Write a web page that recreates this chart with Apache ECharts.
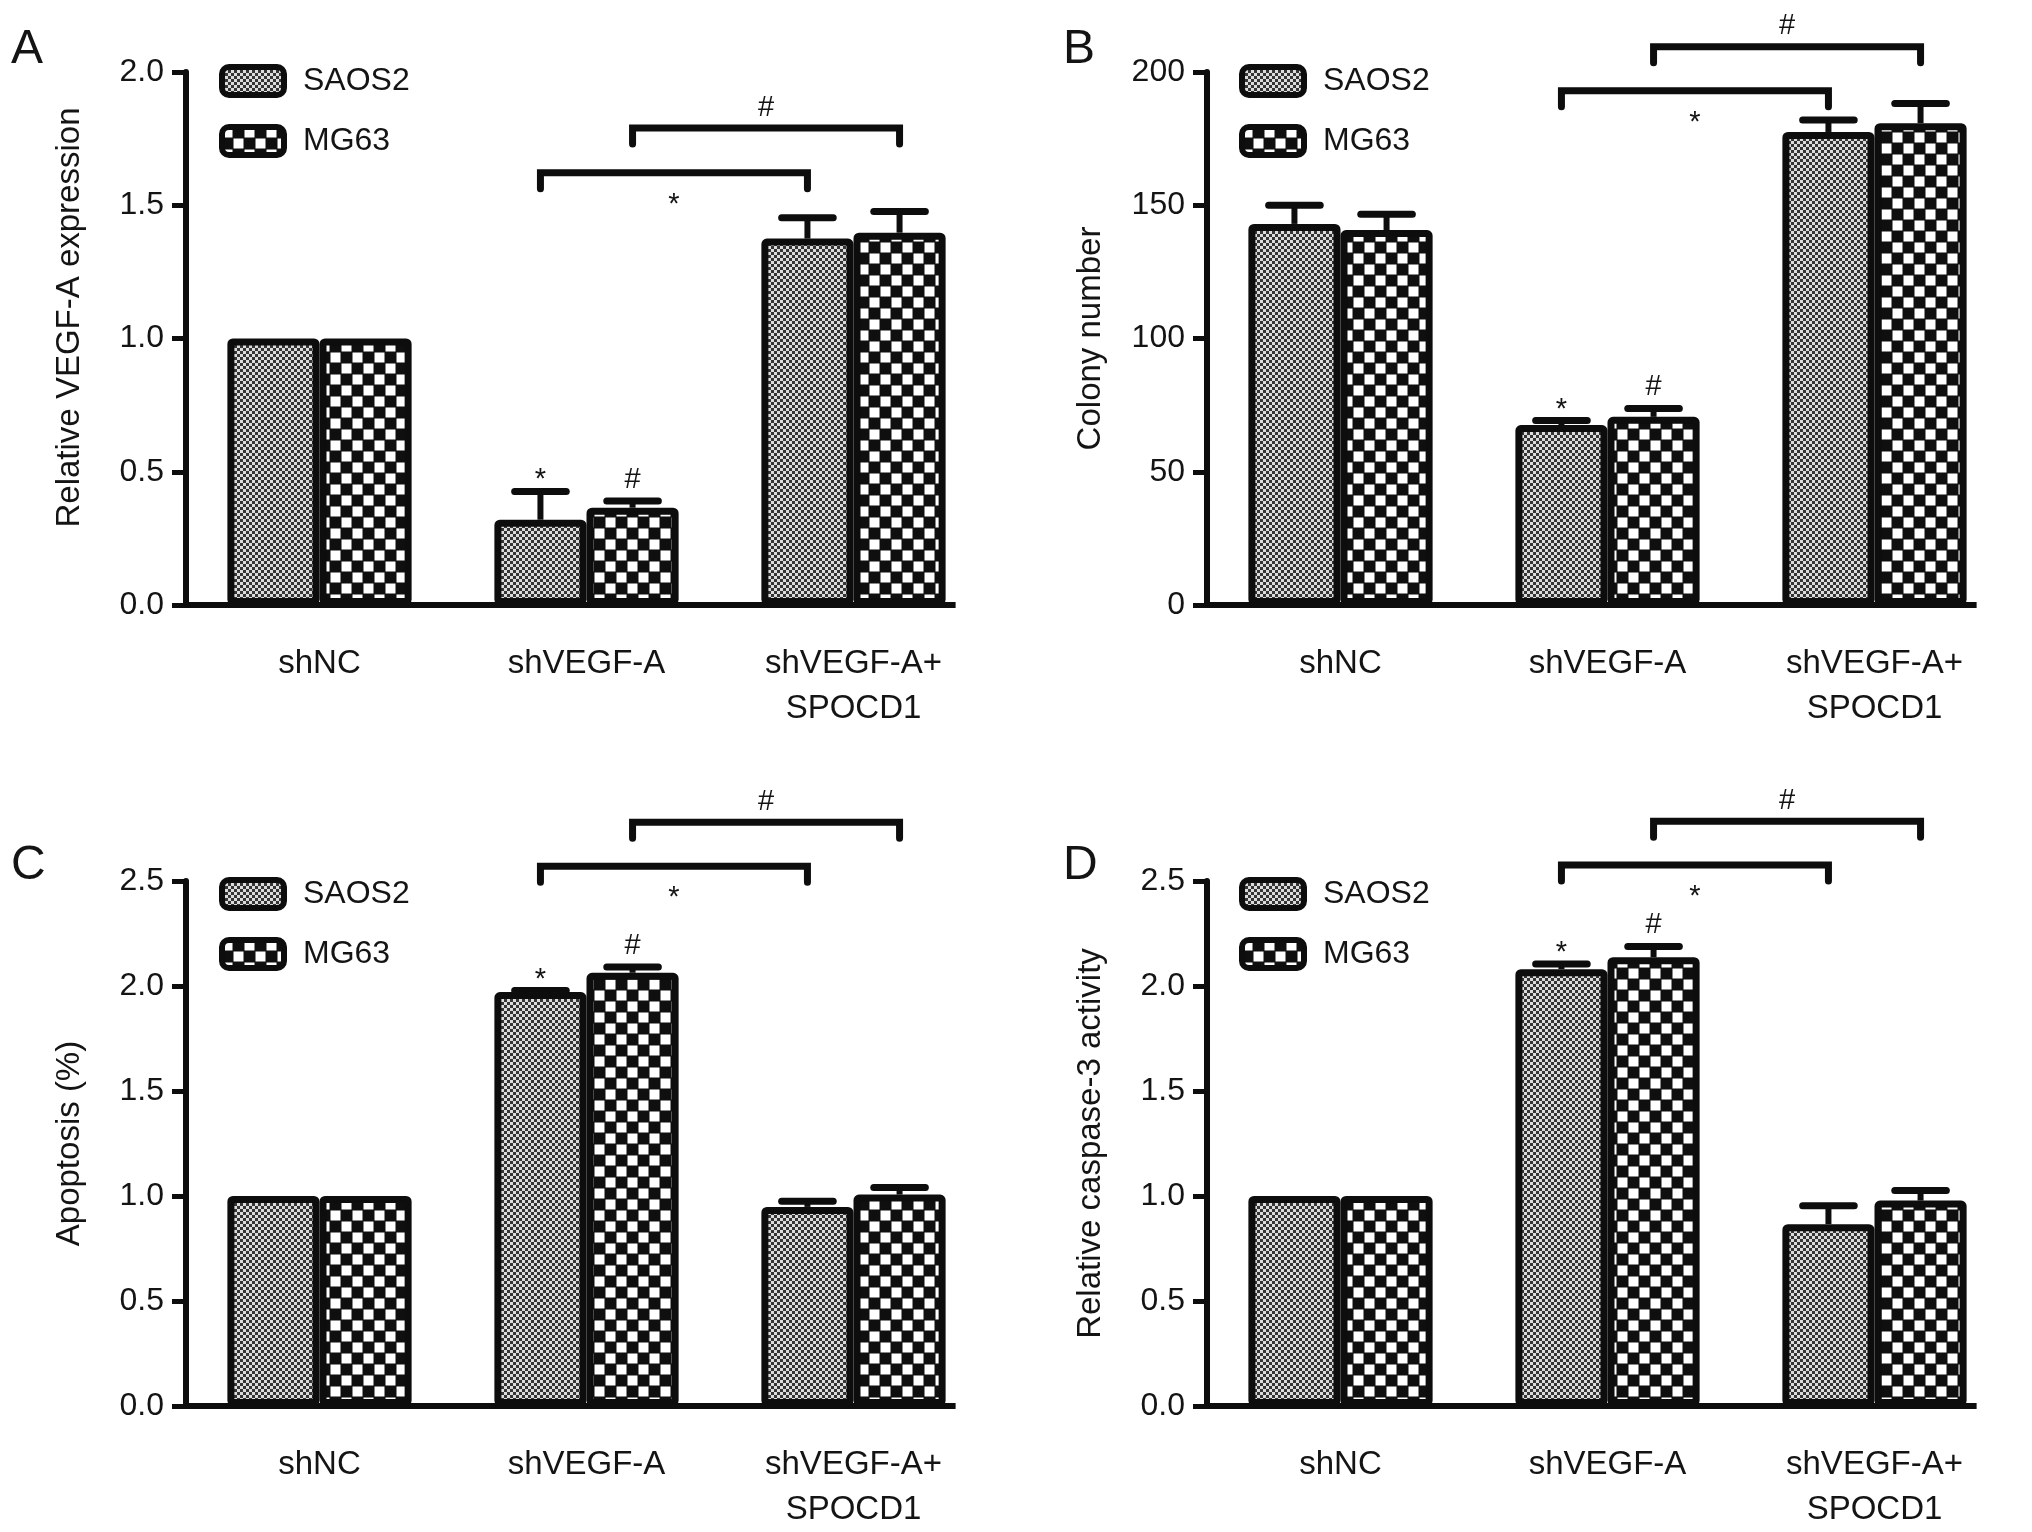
<!DOCTYPE html>
<html>
<head>
<meta charset="utf-8">
<script src="https://cdn.jsdelivr.net/npm/echarts@6/dist/echarts.min.js"></script>
<style>
html,body{margin:0;padding:0;background:#fff;}
#chart{width:2032px;height:1532px;}
</style>
</head>
<body>
<div id="chart"></div>
<script>
// ---------------- DATA ----------------
const categories = ['shNC', 'shVEGF-A', 'shVEGF-A+\nSPOCD1'];
const seriesNames = ['SAOS2', 'MG63'];
const panelLetters = ['A', 'B', 'C', 'D'];
const yAxisNames = ['Relative VEGF-A expression', 'Colony number', 'Apoptosis (%)', 'Relative caspase-3 activity'];
const yMax = [2.0, 200, 2.5, 2.5];
const yInterval = [0.5, 50, 0.5, 0.5];
const yDecimals = [1, 0, 1, 1];

// Panel A
const aSAOS2 = [1.0, 0.32, 1.375];
const aSAOS2Err = [null, 0.426, 1.453];
const aMG63 = [1.0, 0.365, 1.397];
const aMG63Err = [null, 0.39, 1.477];
const aBracketY = [1.622, 1.79];
// Panel B
const bSAOS2 = [143, 67.5, 177.5];
const bSAOS2Err = [150, 69.2, 182];
const bMG63 = [140.7, 70.6, 180.8];
const bMG63Err = [146.6, 73.7, 188.2];
const bBracketY = [193, 209.5];
// Panel C
const cSAOS2 = [1.0, 1.971, 0.948];
const cSAOS2Err = [null, 1.978, 0.975];
const cMG63 = [1.0, 2.063, 1.007];
const cMG63Err = [null, 2.09, 1.04];
const cBracketY = [2.57, 2.78];
// Panel D
const dSAOS2 = [1.0, 2.08, 0.866];
const dSAOS2Err = [null, 2.105, 0.954];
const dMG63 = [1.0, 2.137, 0.978];
const dMG63Err = [null, 2.188, 1.026];
const dBracketY = [2.576, 2.784];

// significance marks over single bars: category index, series index, text
const markCats = [1, 1];
const markSeries = [0, 1];
const markTexts = ['*', '#'];
// comparison brackets: from [cat, series] to [cat, series]
const bracketFrom = [[1, 0], [1, 1]];
const bracketTo = [[2, 0], [2, 1]];
const bracketTexts = ['*', '#'];
const bracketLabelSide = ['below', 'above'];

const panelData = [
  {s: aSAOS2, se: aSAOS2Err, m: aMG63, me: aMG63Err, br: aBracketY},
  {s: bSAOS2, se: bSAOS2Err, m: bMG63, me: bMG63Err, br: bBracketY},
  {s: cSAOS2, se: cSAOS2Err, m: cMG63, me: cMG63Err, br: cBracketY},
  {s: dSAOS2, se: dSAOS2Err, m: dMG63, me: dMG63Err, br: dBracketY}
];

// ---------------- LAYOUT / STYLE ----------------
const FONT = '"Liberation Sans", Arial, Helvetica, sans-serif';
const INK = '#0d0d0d';
const TXT = '#141414';
const layout = [
  {left: 186, top: 72, width: 801, height: 533, legendLeft: 214, legendTop: 59, letterLeft: 11, letterTop: 26, namePad: [0, 0, 0, 42]},
  {left: 1207, top: 72, width: 801, height: 533, legendLeft: 1234, legendTop: 59, letterLeft: 1063, letterTop: 26, namePad: [0, 0, 0, 0]},
  {left: 186, top: 881, width: 801, height: 534, legendLeft: 214, legendTop: 872, letterLeft: 11, letterTop: 842, namePad: [0, 0, 0, 0]},
  {left: 1207, top: 881, width: 801, height: 534, legendLeft: 1234, legendTop: 872, letterLeft: 1063, letterTop: 842, namePad: [0, 0, 0, 0]}
];
const BAR_FRAC = 0.345;

function makeChecker(cell, dark, light, lightSize) {
  const c = document.createElement('canvas');
  c.width = c.height = cell * 2;
  const g = c.getContext('2d');
  g.fillStyle = dark; g.fillRect(0, 0, cell * 2, cell * 2);
  g.fillStyle = light;
  const o = (cell - lightSize) / 2;
  g.fillRect(o, o, lightSize, lightSize);
  g.fillRect(cell + o, cell + o, lightSize, lightSize);
  return c;
}
const patSAOS2 = {image: makeChecker(3, '#353535', '#dcdcdc', 3), repeat: 'repeat'};
const patMG63 = {image: makeChecker(11, '#0f0f0f', '#ffffff', 10), repeat: 'repeat'};
const patterns = [patSAOS2, patMG63];

function barCenter(api, cat, ser) {
  const cw = api.size([1, 0])[0];
  const x = api.coord([cat, 0])[0];
  return x + (ser === 0 ? -1 : 1) * BAR_FRAC / 2 * cw;
}
function glyphOffset(t, fs) { return t === '*' ? 0.24 * fs : 0.02 * fs; }

const option = {
  animation: false,
  backgroundColor: '#fff',
  title: layout.map((L, i) => ({
    text: panelLetters[i], left: L.letterLeft, top: L.letterTop, padding: 0,
    textStyle: {fontSize: 48, fontWeight: 'normal', color: TXT, fontFamily: FONT}
  })),
  legend: layout.map((L) => ({
    left: L.legendLeft, top: L.legendTop, orient: 'vertical',
    itemWidth: 62, itemHeight: 28, itemGap: 26, icon: 'roundRect',
    selectedMode: false, data: seriesNames,
    itemStyle: {borderWidth: 6, borderColor: INK},
    textStyle: {fontSize: 32, color: TXT, fontFamily: FONT, padding: [0, 0, 0, 14], lineHeight: 32}
  })),
  grid: layout.map(L => ({left: L.left, top: L.top, width: L.width, height: L.height, containLabel: false})),
  xAxis: layout.map((L, i) => ({
    type: 'category', gridIndex: i, data: categories, boundaryGap: true,
    axisLine: {show: false},
    axisTick: {alignWithLabel: true, length: 19, lineStyle: {color: INK, width: 5}},
    axisLabel: {fontSize: 33, color: TXT, fontFamily: FONT, margin: 36, lineHeight: 45, interval: 0}
  })),
  yAxis: layout.map((L, i) => ({
    type: 'value', gridIndex: i, min: 0, max: yMax[i], interval: yInterval[i],
    name: yAxisNames[i], nameLocation: 'middle', nameRotate: 90, nameGap: 100,
    nameTextStyle: {fontSize: 33, color: TXT, fontFamily: FONT, padding: L.namePad},
    axisLine: {show: true, lineStyle: {color: INK, width: 6}},
    axisTick: {show: true, length: 14, lineStyle: {color: INK, width: 5}},
    axisLabel: {fontSize: 32, color: TXT, fontFamily: FONT, margin: 22,
      formatter: v => v.toFixed(yDecimals[i])},
    splitLine: {show: false}
  })),
  series: []
};

panelData.forEach((P, i) => {
  const vals = [P.s, P.m];
  const errs = [P.se, P.me];
  // x axis baseline: from the y axis to just past the last bar (drawn through the axis scales)
  option.series.push({
    type: 'custom', xAxisIndex: i, yAxisIndex: i, z: 5, silent: true, clip: false,
    data: [[0, 0]],
    renderItem: (params, api) => {
      const cw = api.size([1, 0])[0];
      const last = categories.length - 1;
      const y = api.coord([0, 0])[1];
      const xs = api.coord([0, 0])[0] - cw / 2 - 3;
      const xe = api.coord([last, 0])[0] + BAR_FRAC * cw + 10;
      return {type: 'line', shape: {x1: xs, y1: y, x2: xe, y2: y}, style: {stroke: INK, lineWidth: 6}};
    }
  });
  vals.forEach((arr, si) => {
    option.series.push({
      type: 'bar', name: seriesNames[si], xAxisIndex: i, yAxisIndex: i,
      data: arr, barWidth: (BAR_FRAC * 100) + '%', barGap: '0%', z: 2,
      itemStyle: {color: patterns[si], borderColor: INK, borderWidth: 7, borderRadius: 2}
    });
  });
  // error bars
  const errRows = [];
  errs.forEach((earr, si) => earr.forEach((e, ci) => { if (e != null) errRows.push([ci, vals[si][ci], e, si]); }));
  option.series.push({
    type: 'custom', xAxisIndex: i, yAxisIndex: i, z: 3, silent: true, clip: false,
    data: errRows,
    renderItem: (params, api) => {
      const cat = api.value(0), v = api.value(1), e = api.value(2), si = api.value(3);
      const x = barCenter(api, cat, si);
      const yb = api.coord([cat, v])[1], yt = api.coord([cat, e])[1];
      const half = 0.28 * BAR_FRAC * api.size([1, 0])[0];
      return {type: 'group', children: [
        {type: 'line', shape: {x1: x, y1: yb, x2: x, y2: yt}, style: {stroke: INK, lineWidth: 6}},
        {type: 'line', shape: {x1: x - half, y1: yt, x2: x + half, y2: yt}, style: {stroke: INK, lineWidth: 7, lineCap: 'round'}}
      ]};
    }
  });
  // single-bar significance marks
  const markRows = markCats.map((c, k) => {
    const si = markSeries[k];
    const e = errs[si][c];
    return [c, si, e != null ? e : vals[si][c]];
  });
  option.series.push({
    type: 'custom', xAxisIndex: i, yAxisIndex: i, z: 4, silent: true, clip: false,
    data: markRows,
    renderItem: (params, api) => {
      const c = api.value(0), si = api.value(1), y = api.value(2);
      const t = markTexts[params.dataIndex];
      const fs = 29;
      const x = barCenter(api, c, si);
      const yc = api.coord([c, y])[1] - (t === '*' ? 18 : 22);
      return {type: 'text', style: {x: x, y: yc + glyphOffset(t, fs), text: t, fill: TXT,
        font: fs + 'px ' + FONT, textAlign: 'center', textVerticalAlign: 'middle'}};
    }
  });
  // brackets
  const brRows = bracketFrom.map((f, k) => [f[0], f[1], bracketTo[k][0], bracketTo[k][1], P.br[k]]);
  option.series.push({
    type: 'custom', xAxisIndex: i, yAxisIndex: i, z: 4, silent: true, clip: false,
    data: brRows,
    renderItem: (params, api) => {
      const c1 = api.value(0), s1 = api.value(1), c2 = api.value(2), s2 = api.value(3), yv = api.value(4);
      const x1 = barCenter(api, c1, s1), x2 = barCenter(api, c2, s2);
      const y = api.coord([c1, yv])[1];
      const leg = 16;
      const t = bracketTexts[params.dataIndex];
      const fs = 29;
      const yc = bracketLabelSide[params.dataIndex] === 'below' ? y + 25 : y - 21;
      return {type: 'group', children: [
        {type: 'polyline', shape: {points: [[x1, y + leg], [x1, y], [x2, y], [x2, y + leg]]},
          style: {stroke: INK, lineWidth: 7, fill: null, lineCap: 'round', lineJoin: 'miter'}},
        {type: 'text', style: {x: (x1 + x2) / 2, y: yc + glyphOffset(t, fs), text: t, fill: TXT,
          font: fs + 'px ' + FONT, textAlign: 'center', textVerticalAlign: 'middle'}}
      ]};
    }
  });
});

const chart = echarts.init(document.getElementById('chart'), null, {renderer: 'canvas'});
chart.setOption(option);
</script>
</body>
</html>
